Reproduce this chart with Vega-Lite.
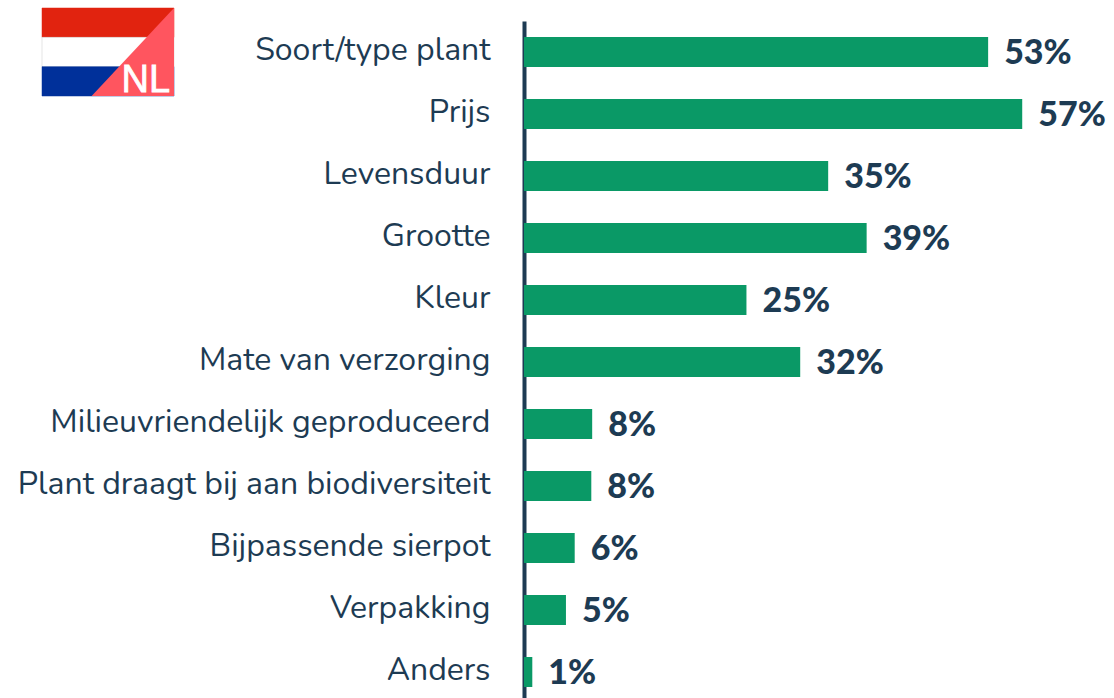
{"$schema":"https://vega.github.io/schema/vega-lite/v6.json","width":590,"height":677,"autosize":{"type":"none"},"padding":{"left":524,"top":21,"right":0,"bottom":0},"background":"white","config":{"view":{"stroke":null}},"datasets":{"bars":[{"kenmerk":"Soort/type plant","aandeel":0.531},{"kenmerk":"Prijs","aandeel":0.57},{"kenmerk":"Levensduur","aandeel":0.348},{"kenmerk":"Grootte","aandeel":0.392},{"kenmerk":"Kleur","aandeel":0.2545},{"kenmerk":"Mate van verzorging","aandeel":0.316},{"kenmerk":"Milieuvriendelijk geproduceerd","aandeel":0.078},{"kenmerk":"Plant draagt bij aan biodiversiteit","aandeel":0.077},{"kenmerk":"Bijpassende sierpot","aandeel":0.058},{"kenmerk":"Verpakking","aandeel":0.048},{"kenmerk":"Anders","aandeel":0.0095}],"stripes":[{"a":0,"b":1,"c":0,"d":1,"kleur":"rood"},{"a":0,"b":1,"c":1,"d":2,"kleur":"wit"},{"a":0,"b":1,"c":2,"d":3,"kleur":"blauw"}],"corner":[{"a":0.376,"c":3,"d":3},{"a":1,"c":0,"d":3}],"code":[{"a":0.97,"c":2.86,"t":"NL"}]},"layer":[{"data":{"name":"bars"},"encoding":{"y":{"field":"kenmerk","type":"nominal","sort":null,"scale":{"range":[0,682],"paddingInner":0.516,"paddingOuter":0.258},"axis":{"title":null,"ticks":false,"grid":false,"labelPadding":34,"labelOffset":-2,"labelFont":"Nunito, Lato","labelFontSize":32,"labelColor":"#1D3B53","labelLimit":520,"domainColor":"#1D3B53","domainWidth":4}},"x":{"field":"aandeel","type":"quantitative","scale":{"domain":[0,0.675],"range":[0,590]},"axis":null}},"layer":[{"mark":{"type":"bar","color":"#0A9966"}},{"mark":{"type":"text","align":"left","dx":16,"dy":2,"font":"Lato","fontWeight":900,"fontSize":34,"color":"#1D3B53"},"encoding":{"text":{"field":"aandeel","type":"quantitative","format":".0%"}}}]},{"layer":[{"data":{"name":"stripes"},"mark":{"type":"rect","strokeWidth":0.5},"encoding":{"x":{"field":"a","type":"quantitative","scale":{"domain":[0,1],"range":[-482,-350]},"axis":null},"x2":{"field":"b"},"y":{"field":"c","type":"quantitative","scale":{"domain":[0,3],"range":[-13,75]},"axis":null},"y2":{"field":"d"},"color":{"field":"kleur","type":"nominal","scale":{"domain":["rood","wit","blauw"],"range":["#E1230F","#FFFFFF","#00309A"]},"legend":null},"stroke":{"field":"kleur","type":"nominal","scale":{"domain":["rood","wit","blauw"],"range":["#E1230F","#C8C8C8","#00309A"]},"legend":null}}},{"data":{"name":"corner"},"mark":{"type":"area","color":"#FF555F","orient":"vertical"},"encoding":{"x":{"field":"a","type":"quantitative","scale":{"domain":[0,1],"range":[-482,-350]},"axis":null},"y":{"field":"c","type":"quantitative","scale":{"domain":[0,3],"range":[-13,75]},"axis":null},"y2":{"field":"d"}}},{"data":{"name":"code"},"mark":{"type":"text","align":"right","baseline":"alphabetic","font":"Liberation Sans","fontSize":38,"color":"white","stroke":"white","strokeWidth":0.8},"encoding":{"x":{"field":"a","type":"quantitative","scale":{"domain":[0,1],"range":[-482,-350]},"axis":null},"y":{"field":"c","type":"quantitative","scale":{"domain":[0,3],"range":[-13,75]},"axis":null},"text":{"field":"t"}}}]}],"resolve":{"scale":{"x":"independent","y":"independent"}}}
